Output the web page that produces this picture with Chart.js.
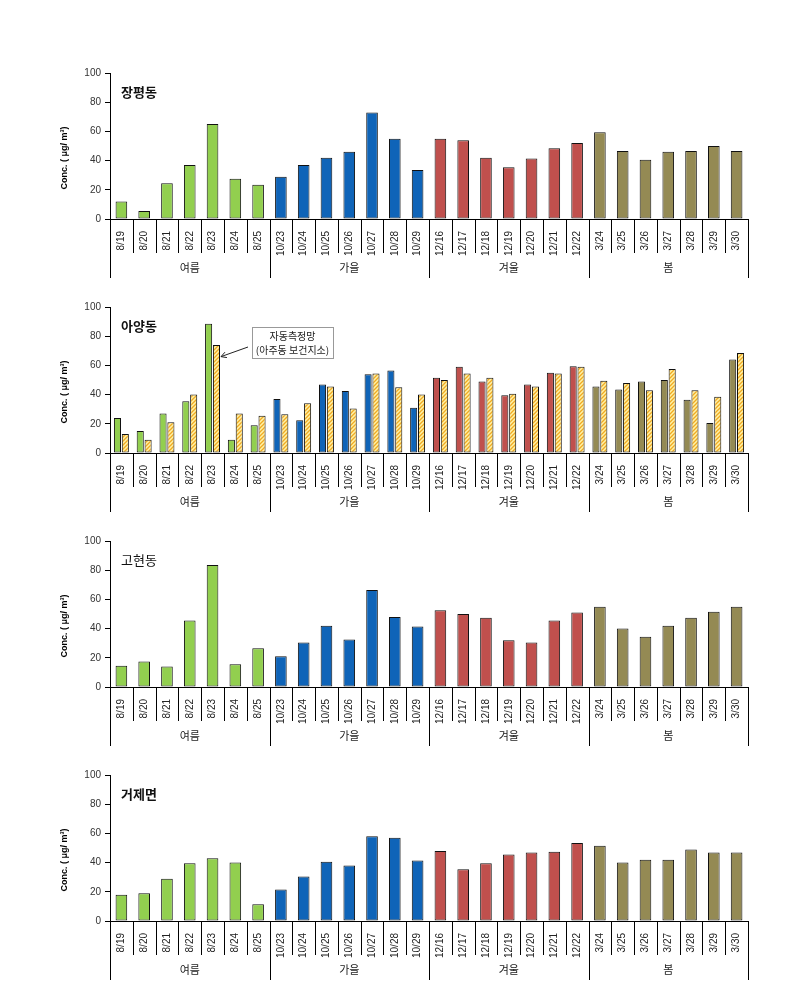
<!DOCTYPE html>
<html>
<head>
<meta charset="utf-8">
<script src="https://cdn.jsdelivr.net/npm/chart.js@4.4.0/dist/chart.umd.min.js"></script>
<style>
  html, body { margin: 0; padding: 0; background: #fff; }
  #wrap { position: relative; width: 805px; height: 1005px; background: #fff; }
  canvas { position: absolute; left: 0; }
</style>
</head>
<body>
<div id="wrap">
  <canvas id="c0" width="805" height="234" style="top:50px"></canvas>
  <canvas id="c1" width="805" height="234" style="top:284px"></canvas>
  <canvas id="c2" width="805" height="234" style="top:518px"></canvas>
  <canvas id="c3" width="805" height="234" style="top:752px"></canvas>
</div>
<script>
// 측정일자 (x축 라벨)
const dates = [
  '8/19', '8/20', '8/21', '8/22', '8/23', '8/24', '8/25',
  '10/23', '10/24', '10/25', '10/26', '10/27', '10/28', '10/29',
  '12/16', '12/17', '12/18', '12/19', '12/20', '12/21', '12/22',
  '3/24', '3/25', '3/26', '3/27', '3/28', '3/29', '3/30',
];
const seasonNames = ['여름', '가을', '겨울', '봄'];
const seasonSizes = [7, 7, 7, 7];
const seasonColors = ['#92CF4F', '#0F64B8', '#C0504D', '#948A54'];

// 지점별 농도 (㎍/㎥)
const jangpyeong = [12, 5.5, 24.5, 37, 65, 27.5, 23.5, 29, 37, 42, 46, 73, 55, 33.5,
  55, 54, 42, 35.5, 41.5, 48.5, 52, 59.5, 46.5, 40.5, 46, 46.5, 50, 46.5];
const ayang = [24, 15, 27, 35.5, 88.5, 9, 19, 37, 22.5, 47, 42.5, 54, 56.5, 31,
  51.5, 59, 49, 39.5, 47, 55, 59.5, 45.5, 43.5, 49, 50, 36.5, 20.5, 64];
const ayangAuto = [13, 9, 21, 40, 74, 27, 25.5, 26.5, 34, 45.5, 30.5, 54.5, 45, 40,
  50, 54.5, 51.5, 40.5, 45.5, 54.5, 59, 49.5, 48, 43, 57.5, 43, 38.5, 68.5];
const gohyeon = [14.5, 17.5, 14, 45.5, 83.5, 15.5, 26.5, 21, 30.5, 42, 32.5, 66.5, 48, 41.5,
  52.5, 50, 47.5, 32, 30.5, 45.5, 51, 55, 40, 34.5, 42, 47.5, 51.5, 55];
const geoje = [18, 19, 29, 39.5, 43, 40, 11.5, 21.5, 30.5, 40.5, 38, 58, 57, 41.5,
  48, 35.5, 39.5, 45.5, 47, 47.5, 53.5, 51.5, 40, 42, 42, 49, 47, 47];

const FONT = '"Liberation Sans", "Noto Sans CJK KR", sans-serif';
const KFONT = '"Noto Sans CJK KR", sans-serif';

const seasonBounds = [0];
seasonSizes.forEach(s => seasonBounds.push(seasonBounds[seasonBounds.length - 1] + s));

const barColors = [];
seasonSizes.forEach((s, k) => { for (let i = 0; i < s; i++) barColors.push(seasonColors[k]); });

function makeHatch(ctx) {
  const p = document.createElement('canvas');
  p.width = 4; p.height = 4;
  const g = p.getContext('2d');
  g.fillStyle = '#FFF2A8';
  g.fillRect(0, 0, 4, 4);
  g.strokeStyle = '#F0AA22';
  g.lineWidth = 1.3;
  g.beginPath();
  g.moveTo(0, 4); g.lineTo(4, 0);
  g.moveTo(-1, 1); g.lineTo(1, -1);
  g.moveTo(3, 5); g.lineTo(5, 3);
  g.stroke();
  return ctx.createPattern(p, 'repeat');
}

// 구분선, 계절 라벨, 지점명, y축 제목
const panelDeco = {
  id: 'panelDeco',
  afterDraw(chart, args, opts) {
    const ctx = chart.ctx;
    const xs = chart.scales.x;
    const area = chart.chartArea;
    const y0 = xs.top;

    ctx.save();
    ctx.strokeStyle = '#000';
    ctx.lineWidth = 1;
    for (let i = 0; i <= dates.length; i++) {
      const px = Math.round(xs.getPixelForValue(i - 0.5)) + 0.5;
      const full = seasonBounds.includes(i);
      ctx.beginPath();
      ctx.moveTo(px, y0);
      ctx.lineTo(px, y0 + (full ? 59 : 34));
      ctx.stroke();
    }

    ctx.font = '11px ' + KFONT;
    ctx.fillStyle = '#222';
    ctx.textAlign = 'center';
    ctx.textBaseline = 'middle';
    seasonNames.forEach((n, k) => {
      const a = xs.getPixelForValue(seasonBounds[k] - 0.5);
      const b = xs.getPixelForValue(seasonBounds[k + 1] - 0.5);
      ctx.fillText(n, (a + b) / 2, y0 + 49);
    });

    ctx.font = (opts.bold ? 'bold ' : '') + '13px ' + KFONT;
    ctx.fillStyle = '#111';
    ctx.textAlign = 'left';
    ctx.fillText(opts.title, area.left + 11, area.top + 19);

    ctx.translate(65, (area.top + area.bottom) / 2 + 12);
    ctx.rotate(-Math.PI / 2);
    ctx.font = 'bold 9px ' + FONT;
    ctx.textAlign = 'center';
    ctx.fillStyle = '#000';
    ctx.fillText('Conc. ( μg/ m³)', 0, 0);
    ctx.restore();
  },
};

// 아양동 자동측정망 설명상자
const autoNote = {
  id: 'autoNote',
  afterDraw(chart) {
    const ctx = chart.ctx;
    const area = chart.chartArea;
    const bar = chart.getDatasetMeta(1).data[4];
    const tipX = bar.x + bar.width / 2 + 1;
    const tipY = chart.scales.y.getPixelForValue(66);
    const bx = area.left + 142, by = area.top + 20, bw = 81, bh = 31;

    ctx.save();
    ctx.fillStyle = '#fff';
    ctx.fillRect(bx, by, bw, bh);
    ctx.strokeStyle = '#999';
    ctx.lineWidth = 1;
    ctx.strokeRect(bx + 0.5, by + 0.5, bw, bh);

    ctx.fillStyle = '#222';
    ctx.font = '10px ' + KFONT;
    ctx.textAlign = 'center';
    ctx.textBaseline = 'middle';
    ctx.fillText('자동측정망', bx + bw / 2, by + 9);
    ctx.fillText('(아주동 보건지소)', bx + bw / 2, by + 23);

    const sx = bx - 4, sy = by + 20;
    const ang = Math.atan2(sy - tipY, sx - tipX);
    ctx.strokeStyle = '#222';
    ctx.beginPath();
    ctx.moveTo(sx, sy);
    ctx.lineTo(tipX, tipY);
    ctx.moveTo(tipX + 6 * Math.cos(ang - 0.5), tipY + 6 * Math.sin(ang - 0.5));
    ctx.lineTo(tipX, tipY);
    ctx.lineTo(tipX + 6 * Math.cos(ang + 0.5), tipY + 6 * Math.sin(ang + 0.5));
    ctx.stroke();
    ctx.restore();
  },
};

function makeChart(id, title, bold, datasets, extraPlugins) {
  const ctx = document.getElementById(id).getContext('2d');
  return new Chart(ctx, {
    type: 'bar',
    data: { labels: dates, datasets: datasets },
    options: {
      responsive: false,
      animation: false,
      layout: { padding: { top: 23, right: 57, bottom: 0, left: 0 } },
      plugins: {
        legend: { display: false },
        tooltip: { enabled: false },
        panelDeco: { title: title, bold: bold },
      },
      scales: {
        x: {
          offset: true,
          grid: { display: false },
          border: { display: true, color: '#000', width: 1 },
          ticks: {
            autoSkip: false,
            minRotation: 90,
            maxRotation: 90,
            padding: 4,
            color: '#222',
            font: { family: FONT, size: 10 },
          },
          afterFit(s) { s.height = 65; },
        },
        y: {
          min: 0,
          max: 100,
          ticks: {
            stepSize: 20,
            padding: 4,
            color: '#333',
            font: { family: FONT, size: 10 },
          },
          grid: { drawOnChartArea: false, drawTicks: true, tickLength: 5, color: '#000' },
          border: { display: true, color: '#000', width: 1 },
          afterFit(s) { s.width = 110; },
        },
      },
    },
    plugins: [panelDeco].concat(extraPlugins || []),
  });
}

const barStyle = {
  borderColor: '#111',
  borderWidth: 1,
  borderSkipped: false,
};

function single(values) {
  return [Object.assign({
    data: values,
    backgroundColor: barColors,
    barPercentage: 0.51,
    categoryPercentage: 1.0,
  }, barStyle)];
}

makeChart('c0', '장평동', true, single(jangpyeong));

const hatch = makeHatch(document.getElementById('c1').getContext('2d'));
makeChart('c1', '아양동', true, [
  Object.assign({
    data: ayang,
    backgroundColor: barColors,
    barPercentage: 0.9,
    categoryPercentage: 0.69,
  }, barStyle),
  Object.assign({
    data: ayangAuto,
    backgroundColor: hatch,
    barPercentage: 0.9,
    categoryPercentage: 0.69,
  }, barStyle),
], [autoNote]);

makeChart('c2', '고현동', false, single(gohyeon));
makeChart('c3', '거제면', true, single(geoje));
</script>
</body>
</html>
